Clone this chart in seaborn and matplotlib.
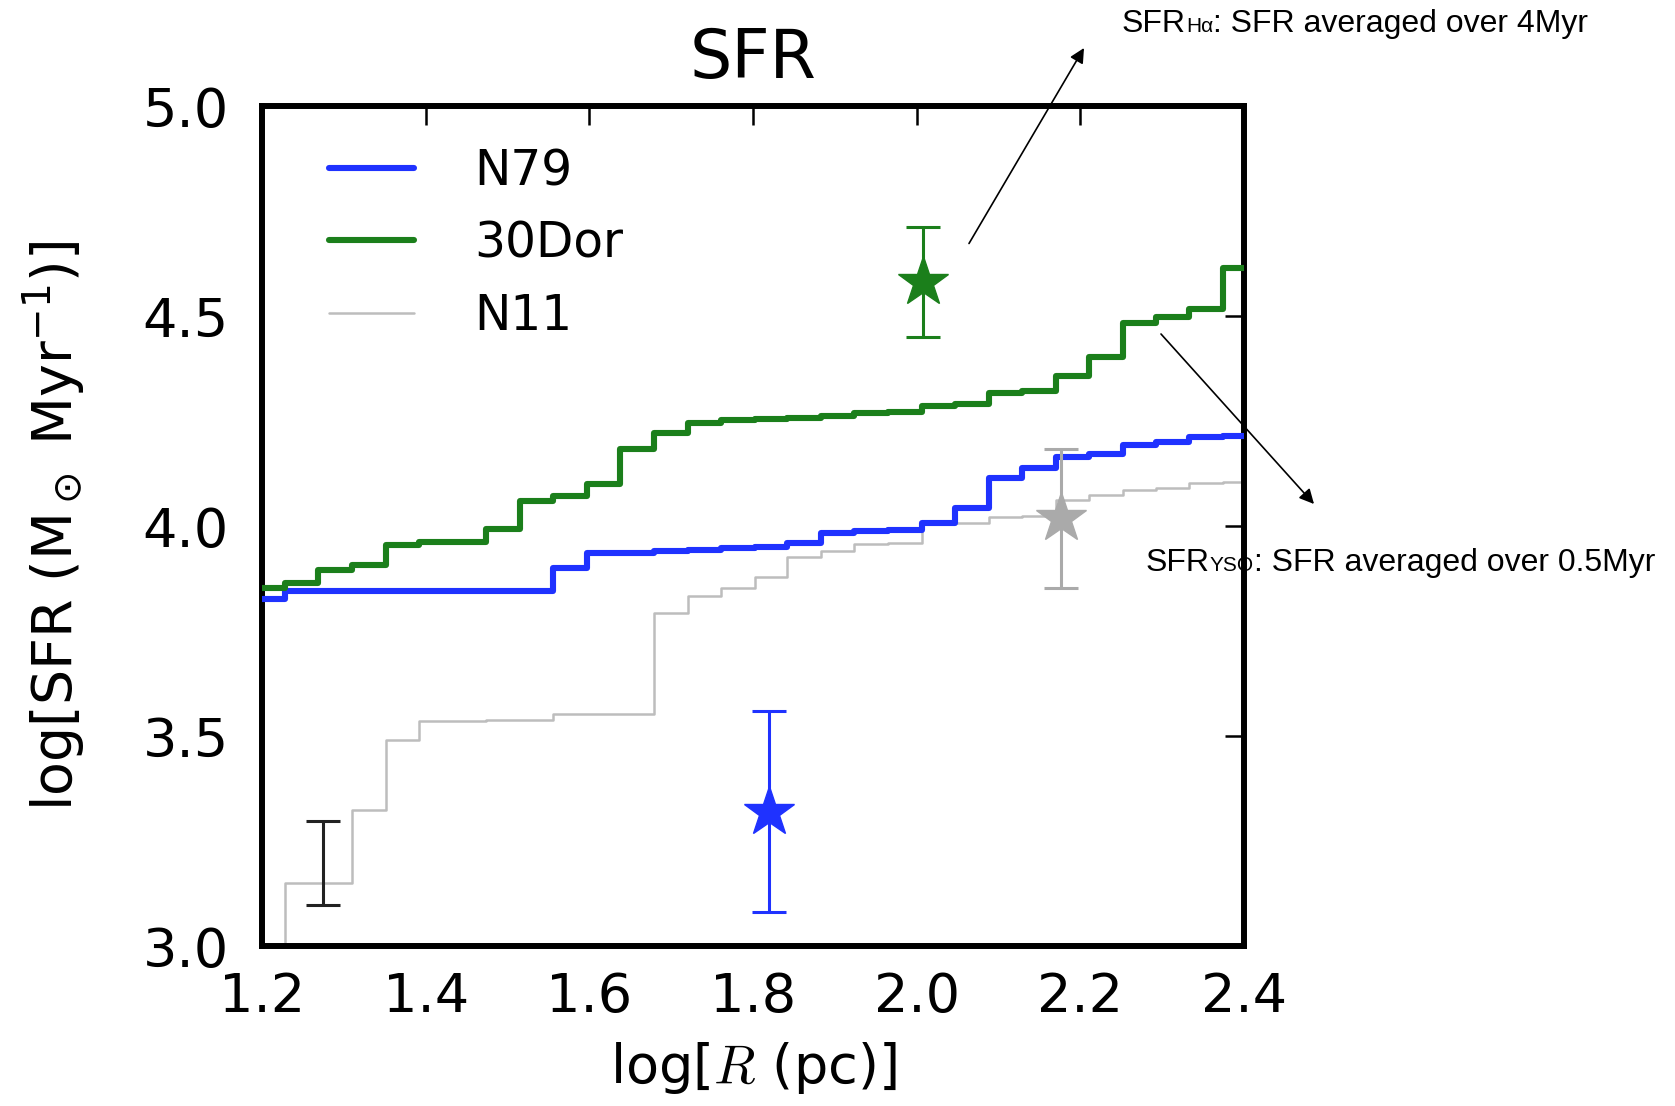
import numpy as np
import pandas as pd
import matplotlib
matplotlib.use("Agg")
import matplotlib.pyplot as plt
import seaborn as sns
from matplotlib.offsetbox import TextArea, HPacker, AnchoredOffsetbox

# ---------------- data ----------------
# step edges in log R (pc)
log_r = [1.187, 1.228, 1.269, 1.310, 1.351, 1.392, 1.433, 1.474, 1.515, 1.556,
         1.597, 1.638, 1.679, 1.720, 1.761, 1.802, 1.842, 1.883, 1.924, 1.965,
         2.006, 2.047, 2.088, 2.129, 2.170, 2.211, 2.252, 2.293, 2.333, 2.374, 2.420]

sfr_n79 = [3.827, 3.845, 3.845, 3.845, 3.845, 3.845, 3.845, 3.845, 3.845, 3.901,
           3.936, 3.936, 3.941, 3.944, 3.948, 3.949, 3.959, 3.983, 3.989, 3.990,
           4.006, 4.042, 4.114, 4.137, 4.164, 4.171, 4.193, 4.201, 4.213, 4.214, 4.214]

sfr_30dor = [3.852, 3.864, 3.895, 3.907, 3.955, 3.961, 3.962, 3.992, 4.060, 4.071,
             4.099, 4.183, 4.222, 4.245, 4.252, 4.255, 4.257, 4.263, 4.268, 4.272,
             4.286, 4.290, 4.316, 4.322, 4.358, 4.403, 4.483, 4.498, 4.516, 4.614, 4.614]

sfr_n11 = [2.500, 3.151, 3.151, 3.324, 3.490, 3.536, 3.536, 3.537, 3.538, 3.552,
           3.552, 3.553, 3.792, 3.833, 3.852, 3.879, 3.927, 3.940, 3.958, 3.960,
           4.004, 4.006, 4.022, 4.024, 4.062, 4.074, 4.086, 4.090, 4.102, 4.105, 4.105]

regions = ["N79", "30Dor", "N11"]
colors = {"N79": "#1f32ff", "30Dor": "#1b7f1b", "N11": "#bdbdbd"}
widths = {"N79": 4.4, "30Dor": 4.4, "N11": 1.8}

# star points (SFR_Halpha / SFR_YSO) with errors
star_x = [1.820, 2.008, 2.176]
star_y = [3.320, 4.582, 4.018]
star_err = [0.240, 0.131, 0.165]
star_colors = ["#1f32ff", "#1b7f1b", "#aaaaaa"]

# typical error bar
typ_x = [1.275]
typ_y = [3.198]
typ_err = [0.100]

x_ticks = [1.2, 1.4, 1.6, 1.8, 2.0, 2.2, 2.4]
y_ticks = [3.0, 3.5, 4.0, 4.5, 5.0]

# ---------------- figure ----------------
sns.set_style("white")
plt.rcParams["font.family"] = ["DejaVu Sans"]
plt.rcParams["mathtext.fontset"] = "dejavusans"
for k in ["text.color", "axes.labelcolor", "xtick.color", "ytick.color"]:
    plt.rcParams[k] = "black"

W, H = 1675, 1106
fig = plt.figure(figsize=(W / 100, H / 100), dpi=100)
ax = fig.add_axes([262 / W, 1 - 946 / H, 982 / W, 840 / H])

df = pd.DataFrame({
    "logR": log_r * 3,
    "sfr": sfr_n79 + sfr_30dor + sfr_n11,
    "region": ["N79"] * len(log_r) + ["30Dor"] * len(log_r) + ["N11"] * len(log_r),
})

for reg in ["N11", "N79", "30Dor"]:
    sub = df[df["region"] == reg]
    sns.lineplot(data=sub, x="logR", y="sfr", ax=ax, color=colors[reg],
                 lw=widths[reg], drawstyle="steps-post", estimator=None,
                 sort=False, label=reg, zorder=3 if reg != "N11" else 2)

for xx, yy, ee, cc in zip(star_x, star_y, star_err, star_colors):
    ax.errorbar([xx], [yy], yerr=[ee], fmt="*", ms=38, color=cc, mec=cc,
                ecolor=cc, elinewidth=2.2, capsize=12, capthick=2.2, zorder=4)

ax.errorbar(typ_x, typ_y, yerr=typ_err, fmt="none", ecolor="#222222",
            elinewidth=2.2, capsize=12, capthick=2.2, zorder=4)

ax.set_xlim(1.2, 2.4)
ax.set_ylim(3.0, 5.0)
ax.set_xticks(x_ticks)
ax.set_yticks(y_ticks)
ax.set_xticklabels([f"{v:.1f}" for v in x_ticks])
ax.set_yticklabels([f"{v:.1f}" for v in y_ticks])
ax.tick_params(direction="in", length=14, width=1.8, top=True, right=True,
               labelsize=39, colors="black")
ax.tick_params(axis="y", pad=24)
ax.tick_params(axis="x", pad=18)
for sp in ax.spines.values():
    sp.set_linewidth(4.3)
    sp.set_color("black")

ax.set_xlabel(r"log[$R$ (pc)]", fontsize=39, labelpad=12, math_fontfamily="cm")
ax.set_ylabel(r"log[SFR (M$_\odot$ Myr$^{-1}$)]", fontsize=40, labelpad=40)
ax.set_title("SFR", fontsize=48, pad=20)

handles, labels = ax.get_legend_handles_labels()
order = [labels.index(r) for r in regions]
ax.legend([handles[i] for i in order], [labels[i] for i in order],
          loc="upper left", bbox_to_anchor=(0.068, 0.951), frameon=False,
          fontsize=35, handlelength=1.75, handletextpad=1.25,
          labelspacing=0.5, borderpad=0, borderaxespad=0)

# ---------------- annotations ----------------
tp_big = dict(size=23, family=["Liberation Sans", "DejaVu Sans"], color="black")
tp_small = dict(size=15, family=["Liberation Sans", "DejaVu Sans"], color="black")


def add_label(parts, x_px, y_px):
    boxes = [TextArea(t, textprops=(tp_small if small else tp_big)) for t, small in parts]
    pack = HPacker(children=boxes, align="baseline", pad=0, sep=0)
    anc = AnchoredOffsetbox(loc="center left", child=pack, pad=0, borderpad=0,
                            frameon=False, bbox_to_anchor=(x_px / W, 1 - y_px / H),
                            bbox_transform=fig.transFigure)
    fig.add_artist(anc)


add_label([("SFR", False), ("Hα", True), (": SFR averaged over 4Myr", False)], 1122, 24)
add_label([("SFR", False), ("YSO", True), (": SFR averaged over 0.5Myr", False)], 1146, 563)

arrow_kw = dict(arrowstyle="-|>", color="black", lw=1.2, mutation_scale=22,
                shrinkA=0, shrinkB=0)
fig.add_artist(matplotlib.patches.FancyArrowPatch(
    (969 / W, 1 - 243.5 / H), (1084 / W, 1 - 48 / H), transform=fig.transFigure, **arrow_kw))
fig.add_artist(matplotlib.patches.FancyArrowPatch(
    (1161 / W, 1 - 334 / H), (1314 / W, 1 - 504 / H), transform=fig.transFigure, **arrow_kw))

fig.savefig("out.png", dpi=100)
